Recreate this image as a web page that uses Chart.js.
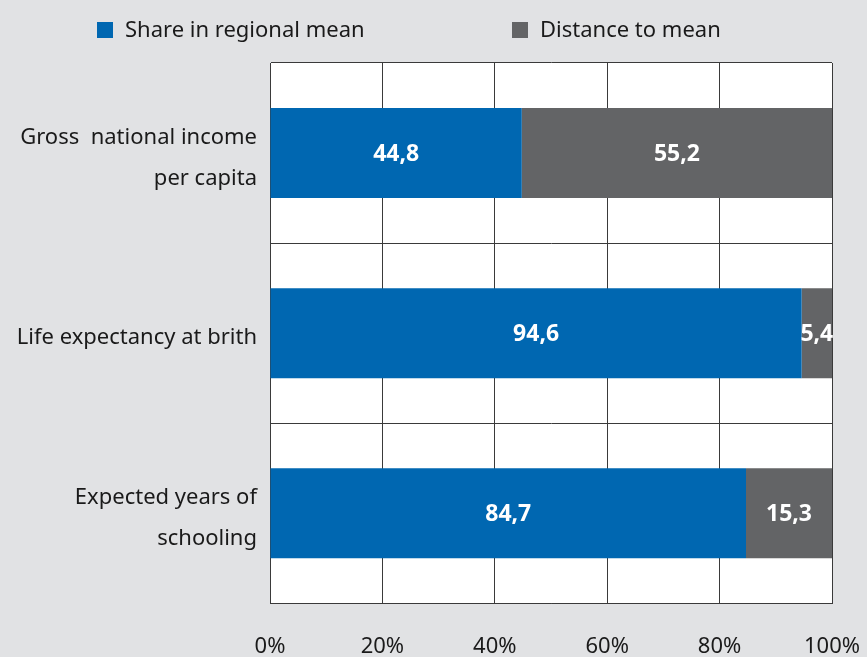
<!DOCTYPE html>
<html>
<head>
<meta charset="utf-8">
<script src="https://cdn.jsdelivr.net/npm/chart.js@4/dist/chart.umd.min.js"></script>
<style>
  html, body { margin: 0; padding: 0; background: #e1e2e4; }
  #wrap { width: 867px; height: 657px; }
</style>
</head>
<body>
<div id="wrap"><canvas id="c" width="867" height="657"></canvas></div>
<script>
const categories = [["Gross  national income", "per capita"], "Life expectancy at brith", ["Expected years of", "schooling"]];
const seriesNames = ["Share in regional mean", "Distance to mean"];
const shareValues = [44.8, 94.6, 84.7];
const distanceValues = [55.2, 5.4, 15.3];
const xTickValues = [0, 20, 40, 60, 80, 100];

const FONT = "'Noto Sans', sans-serif";
const TEXT = "#1a1a1a";
const BLUE = "#0067b1";
const GREY = "#636466";
const GRID = "#3a3a3a";

const plotBg = {
  id: "plotBg",
  beforeDraw(chart) {
    const { ctx, chartArea: a } = chart;
    ctx.save();
    ctx.fillStyle = "#ffffff";
    ctx.fillRect(a.left, a.top, a.right - a.left, a.bottom - a.top);
    ctx.restore();
  }
};

const valueLabels = {
  id: "valueLabels",
  afterDatasetsDraw(chart) {
    const { ctx } = chart;
    ctx.save();
    ctx.fillStyle = "#ffffff";
    ctx.font = "bold 23px " + FONT;
    ctx.textAlign = "center";
    ctx.textBaseline = "middle";
    chart.data.datasets.forEach((ds, di) => {
      const meta = chart.getDatasetMeta(di);
      meta.data.forEach((el, i) => {
        const v = ds.data[i];
        const p = el.getProps(["x", "y", "base"], true);
        const cx = (p.x + p.base) / 2;
        ctx.fillText(v.toFixed(1).replace(".", ","), cx, p.y + 1);
      });
    });
    ctx.restore();
  }
};

const legendBoxes = {
  id: "legendBoxes",
  afterDraw(chart, args, opts) {
    const { ctx } = chart;
    ctx.save();
    ctx.font = "22px " + FONT;
    ctx.textBaseline = "middle";
    ctx.textAlign = "left";
    chart.data.datasets.forEach((ds, i) => {
      const x = opts.starts[i];
      ctx.fillStyle = ds.backgroundColor;
      ctx.fillRect(x, opts.y - 8, 16, 16);
      ctx.fillStyle = TEXT;
      ctx.fillText(ds.label, x + 28, opts.y + 1);
    });
    ctx.restore();
  }
};

new Chart(document.getElementById("c"), {
  type: "bar",
  data: {
    labels: categories,
    datasets: [
      { label: seriesNames[0], data: shareValues, backgroundColor: BLUE, barPercentage: 0.5, categoryPercentage: 1.0 },
      { label: seriesNames[1], data: distanceValues, backgroundColor: GREY, barPercentage: 0.5, categoryPercentage: 1.0 }
    ]
  },
  options: {
    indexAxis: "y",
    responsive: false,
    animation: false,
    devicePixelRatio: 1,
    layout: { padding: { top: 63, right: 35, left: 0, bottom: 0 } },
    plugins: {
      legend: { display: false },
      tooltip: { enabled: false },
      legendBoxes: { starts: [97, 512], y: 30 }
    },
    scales: {
      x: {
        stacked: true,
        min: 0,
        max: 100,
        afterBuildTicks(scale) { scale.ticks = xTickValues.map(v => ({ value: v })); },
        ticks: {
          callback: v => v + "%",
          color: TEXT,
          font: { family: FONT, size: 22 },
          padding: 30,
          maxRotation: 0
        },
        grid: { color: GRID, lineWidth: 1, drawTicks: false },
        border: { display: true, color: GRID, width: 1 },
        afterFit(scale) { scale.height = 53; scale.paddingLeft = 0; scale.paddingRight = 0; }
      },
      y: {
        stacked: true,
        ticks: {
          color: TEXT,
          font: { family: FONT, size: 22, lineHeight: 1.85 },
          padding: 13,
          labelOffset: 5
        },
        grid: { color: GRID, lineWidth: 1, drawTicks: false, offset: true },
        border: { display: true, color: GRID, width: 1 },
        afterFit(scale) { scale.width = 270; }
      }
    }
  },
  plugins: [plotBg, valueLabels, legendBoxes]
});
</script>
</body>
</html>
